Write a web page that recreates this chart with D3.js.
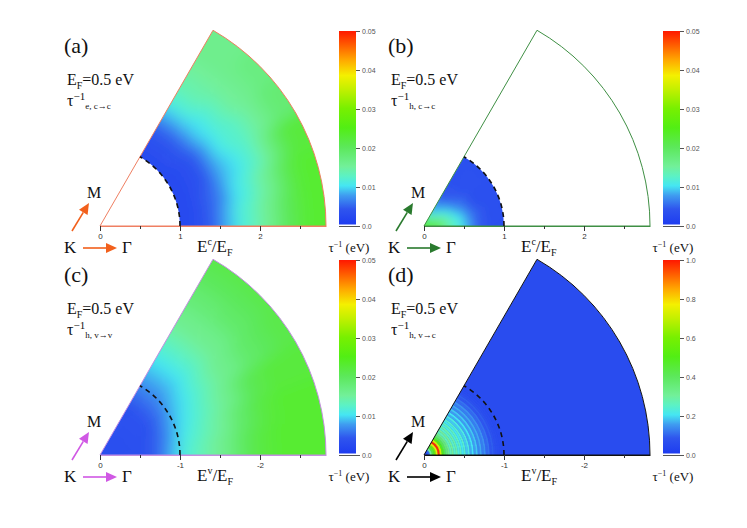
<!DOCTYPE html>
<html>
<head>
<meta charset="utf-8">
<script src="https://cdn.jsdelivr.net/npm/d3@7"></script>
<style>
  body { margin: 0; background: #fff; }
  text { font-family: "Liberation Serif", "DejaVu Serif", serif; }
  .tick text { font-family: "Liberation Sans", Arial, sans-serif; }
</style>
</head>
<body>
<div id="chart"></div>
<script>
// Chart Params
var svgWidth = 747;
var svgHeight = 528;
var serif = "Liberation Serif, DejaVu Serif, serif";

// ---- data ----
// angle rows (deg from K-Gamma towards K-M), centres of 10 deg strips
var angleRows = [5, 15, 25, 35, 45, 55];

// (a) electrons, c->c : only outside E/EF = 1
var radiiA = [1.05, 1.15, 1.25, 1.35, 1.45, 1.55, 1.65, 1.75, 1.85, 1.95,
              2.05, 2.15, 2.25, 2.35, 2.45, 2.55, 2.65, 2.75, 2.85];
var rateA = [
  [.002, .002, .003, .004, .005, .007, .009, .011, .012, .013, .015, .016, .018, .020, .021, .022, .023, .023, .023],
  [.002, .002, .003, .004, .005, .006, .008, .010, .011, .012, .014, .015, .017, .019, .021, .022, .023, .023, .023],
  [.002, .002, .003, .003, .004, .006, .008, .009, .010, .011, .012, .013, .015, .017, .019, .021, .022, .022, .022],
  [.002, .002, .003, .003, .004, .006, .008, .010, .011, .012, .012, .013, .014, .015, .016, .017, .018, .018, .018],
  [.002, .003, .003, .004, .005, .007, .009, .010, .011, .012, .013, .014, .015, .015, .016, .016, .017, .017, .017],
  [.002, .003, .003, .004, .005, .007, .009, .011, .012, .013, .014, .014, .015, .015, .016, .016, .016, .016, .016]
];

// (b) holes, c->c : only inside E/EF = 1
var radiiB = [0.05, 0.15, 0.25, 0.35, 0.45, 0.55, 0.65, 0.75, 0.85, 0.95];
var rateB = [
  [.024, .021, .017, .013, .011, .008, .005, .004, .003, .003],
  [.023, .020, .016, .012, .010, .007, .005, .004, .003, .003],
  [.022, .018, .014, .011, .008, .006, .004, .003, .003, .003],
  [.021, .016, .012, .009, .006, .005, .004, .003, .003, .003],
  [.020, .014, .010, .007, .005, .004, .003, .003, .003, .003],
  [.019, .012, .008, .006, .004, .004, .003, .003, .003, .003]
];

// (c) holes, v->v : whole wedge
var radiiC = [0.05, 0.15, 0.25, 0.35, 0.45, 0.55, 0.65, 0.75, 0.85, 0.95,
              1.05, 1.15, 1.25, 1.35, 1.45, 1.55, 1.65, 1.75, 1.85, 1.95,
              2.05, 2.15, 2.25, 2.35, 2.45, 2.55, 2.65, 2.75, 2.85];
var rateC = [
  [.003, .003, .003, .003, .003, .003, .004, .005, .007, .009, .011, .012, .013, .014, .015, .016, .017, .019, .020, .021, .022, .022, .023, .023, .023, .023, .023, .023, .023],
  [.003, .003, .003, .003, .003, .003, .004, .005, .006, .008, .010, .011, .012, .013, .014, .015, .016, .018, .019, .020, .021, .022, .022, .023, .023, .023, .023, .023, .023],
  [.003, .003, .003, .003, .003, .003, .003, .004, .006, .007, .009, .010, .011, .012, .013, .014, .015, .016, .017, .019, .020, .021, .021, .022, .022, .022, .022, .022, .022],
  [.003, .003, .003, .003, .003, .003, .003, .004, .005, .006, .008, .009, .010, .011, .012, .013, .014, .015, .016, .016, .017, .018, .019, .019, .020, .020, .021, .021, .021],
  [.003, .003, .003, .003, .003, .003, .003, .004, .005, .006, .007, .008, .009, .010, .011, .012, .013, .014, .015, .016, .016, .017, .018, .019, .019, .020, .020, .021, .021],
  [.003, .003, .003, .003, .003, .003, .003, .004, .005, .006, .007, .008, .009, .010, .011, .012, .013, .014, .015, .016, .016, .017, .018, .018, .019, .020, .020, .021, .021]
];

// (d) holes, v->c : concentric rings near K, flat beyond
var radiiD = [0.0125, 0.0375, 0.0625, 0.0875, 0.1125, 0.1375, 0.1625, 0.1875, 0.2125, 0.2375,
              0.2625, 0.2875, 0.3125, 0.3375, 0.3625, 0.3875, 0.4125, 0.4375, 0.4625, 0.4875,
              0.5125, 0.5375, 0.5625, 0.5875, 0.6125, 0.6375, 0.6625, 0.6875, 0.7125, 0.7375,
              0.7625, 0.7875, 0.8125, 0.8375, 0.8625, 0.8875, 0.9125, 0.9375, 0.9625];
var rateD = [.05, .05, .10, .30, .45, .55, .75, .98, .72, .50,
             .42, .36, .32, .26, .30, .24, .28, .22, .26, .20,
             .24, .18, .22, .16, .20, .15, .18, .13, .16, .12,
             .14, .10, .11, .08, .09, .07, .06, .055, .05];
var rateDOuter = 0.05;

// axis ticks
var majorTicks = [0, 1, 2];
var minorTicks = [0.5, 1.5, 2.5];
var cbTicksSmall = [0, 0.01, 0.02, 0.03, 0.04, 0.05];
var cbTicksLarge = [0, 0.2, 0.4, 0.6, 0.8, 1.0];

// colour map (fraction of colour bar range -> colour)
var cmapStops = [0, 0.08, 0.15, 0.2, 0.25, 0.3, 0.4, 0.5, 0.6, 0.7, 0.77, 0.85, 0.93, 1];
var cmapColors = ["#1e3cf0", "#2f55ee", "#3f9cf0", "#45e6f2", "#5cf2c4", "#72f099", "#5ce85a",
                  "#52ee14", "#78f000", "#c4f000", "#f4f000", "#ffa800", "#ff5a00", "#ff1800"];

var panels = [
  { id: "a", x: 100, y: 226, label: "(a)", sub: "e, c\u2192c", band: "c", neg: false,
    line: "#ef7f62", arrow: "#f2601c", radii: radiiA, rate: rateA, rIn: 1, rOut: 2.825,
    max: 0.05, cbTicks: cbTicksSmall, blur: 7 },
  { id: "b", x: 424, y: 226, label: "(b)", sub: "h, c\u2192c", band: "c", neg: false,
    line: "#3f8f44", arrow: "#2a7a2e", radii: radiiB, rate: rateB, rIn: 0, rOut: 1,
    max: 0.05, cbTicks: cbTicksSmall, blur: 4 },
  { id: "c", x: 100, y: 455, label: "(c)", sub: "h, v\u2192v", band: "v", neg: true,
    line: "#c48ee0", arrow: "#d058e4", radii: radiiC, rate: rateC, rIn: 0, rOut: 2.825,
    max: 0.05, cbTicks: cbTicksSmall, blur: 7 },
  { id: "d", x: 424, y: 455, label: "(d)", sub: "h, v\u2192c", band: "v", neg: true,
    line: "#111", arrow: "#000", radii: radiiD, rate: null, rIn: 0, rOut: 2.825,
    max: 1.0, cbTicks: cbTicksLarge, blur: 0 }
];

// ---- svg ----
var svg = d3.select("#chart")
  .append("svg")
  .attr("width", svgWidth)
  .attr("height", svgHeight);

var defs = svg.append("defs");

var rMax = 2.825;
var rScale = d3.scaleLinear().domain([0, rMax]).range([0, 226]);
// polar angle (deg, counter-clockwise from +x) -> d3.arc angle
var toAngle = d => Math.PI / 2 - d * Math.PI / 180;

var cmap = d3.scaleLinear().domain(cmapStops).range(cmapColors).clamp(true);

// colour bar gradient
var grad = defs.append("linearGradient").attr("id", "cmap")
  .attr("x1", 0).attr("y1", 1).attr("x2", 0).attr("y2", 0);
cmapStops.forEach(function(s, i) {
  grad.append("stop").attr("offset", s).attr("stop-color", cmapColors[i]);
});

var arc = d3.arc();

function arrow(g, x1, y1, x2, y2, color) {
  var dx = x2 - x1, dy = y2 - y1, L = Math.hypot(dx, dy);
  var ux = dx / L, uy = dy / L, hl = 11, hw = 5;
  var bx = x2 - ux * hl, by = y2 - uy * hl;
  g.append("line")
    .attr("x1", x1).attr("y1", y1).attr("x2", bx).attr("y2", by)
    .attr("stroke", color).attr("stroke-width", 1.6);
  g.append("path")
    .attr("d", `M${x2},${y2}L${bx - uy * hw},${by + ux * hw}L${bx + uy * hw},${by - ux * hw}Z`)
    .attr("fill", color);
}

function drawPanel(p) {
  var g = svg.append("g").attr("transform", `translate(${p.x}, ${p.y})`);

  // clip to the region where the rate is defined
  defs.append("clipPath").attr("id", "clip-" + p.id)
    .append("path")
    .attr("d", arc({ innerRadius: rScale(p.rIn), outerRadius: rScale(p.rOut),
                     startAngle: toAngle(60), endAngle: toAngle(0) }));

  var heat = g.append("g").attr("clip-path", `url(#clip-${p.id})`);

  if (p.rate) {
    // soft blur to smooth the grid cells
    defs.append("filter").attr("id", "soft-" + p.id)
      .attr("filterUnits", "userSpaceOnUse")
      .attr("x", -150).attr("y", -350).attr("width", 500).attr("height", 500)
      .append("feGaussianBlur").attr("stdDeviation", p.blur);

    var cells = heat.append("g").attr("filter", `url(#soft-${p.id})`);
    var last = angleRows.length - 1;
    // disc under the cells so the blur does not fade out around K
    if (p.radii[0] < 0.1) {
      cells.append("circle")
        .attr("r", rScale(0.4))
        .attr("fill", cmap(p.rate[2][0] / p.max));
    }
    p.rate.forEach(function(row, i) {
      var t0 = i === 0 ? -20 : angleRows[i] - 5;
      var t1 = i === last ? 80 : angleRows[i] + 5;
      row.forEach(function(v, j) {
        var r0 = p.radii[j] - 0.05, r1 = p.radii[j] + 0.05;
        if (j === 0) r0 = Math.max(0, r0 - 0.3);
        if (j === row.length - 1) r1 += 0.3;
        cells.append("path")
          .attr("d", arc({ innerRadius: rScale(r0), outerRadius: rScale(r1),
                           startAngle: toAngle(t1), endAngle: toAngle(t0) }))
          .attr("fill", cmap(v / p.max))
          .attr("stroke", cmap(v / p.max))
          .attr("stroke-width", 0.8);
      });
    });
  } else {
    // flat part first, rings on top
    heat.append("path")
      .attr("d", arc({ innerRadius: 0, outerRadius: rScale(rMax),
                       startAngle: toAngle(60), endAngle: toAngle(0) }))
      .attr("fill", cmap(rateDOuter / p.max));
    heat.selectAll("path.ring").data(rateD).enter()
      .append("path").attr("class", "ring")
      .attr("d", (v, j) => arc({ innerRadius: rScale(radiiD[j] - 0.0125),
                                  outerRadius: rScale(radiiD[j] + 0.0125),
                                  startAngle: toAngle(60), endAngle: toAngle(0) }))
      .attr("fill", v => cmap(v / p.max))
      .attr("stroke", v => cmap(v / p.max))
      .attr("stroke-width", 0.3);
  }

  // wedge outline
  g.append("path")
    .attr("d", arc({ innerRadius: 0, outerRadius: rScale(rMax),
                     startAngle: toAngle(60), endAngle: toAngle(0) }))
    .attr("fill", "none")
    .attr("stroke", p.line)
    .attr("stroke-width", 1);

  // dashed Fermi circle
  var fp = d3.path();
  fp.moveTo(rScale(1), 0);
  fp.arc(0, 0, rScale(1), 0, -Math.PI / 3, true);
  g.append("path")
    .attr("d", fp.toString())
    .attr("fill", "none")
    .attr("stroke", "#111")
    .attr("stroke-width", 1.6)
    .attr("stroke-dasharray", "5,4");

  // x axis
  var fmt = d => (p.neg && d !== 0 ? "-" : "") + d;
  var xAxis = g.append("g")
    .call(d3.axisBottom(rScale).tickValues(majorTicks).tickSize(5).tickSizeOuter(0).tickFormat(fmt));
  xAxis.select(".domain").attr("stroke", p.line);
  xAxis.selectAll(".tick line").attr("stroke", "#333");
  xAxis.selectAll(".tick text").attr("font-size", 8).attr("fill", "#333").attr("y", 7);

  var minor = g.append("g")
    .call(d3.axisBottom(rScale).tickValues(minorTicks).tickSize(3).tickFormat(""));
  minor.select(".domain").remove();
  minor.selectAll(".tick line").attr("stroke", "#333");

  // axis title  E^c/E_F
  var t = g.append("text").attr("x", 97).attr("y", 26).attr("font-family", serif)
    .attr("font-size", 17).attr("fill", "#111");
  t.append("tspan").text("E");
  t.append("tspan").attr("font-size", 10).attr("dy", -7).text(p.band);
  t.append("tspan").attr("dy", 7).text("/E");
  t.append("tspan").attr("font-size", 10).attr("dy", 4).text("F");

  // panel label and annotations
  g.append("text").attr("x", -36).attr("y", -173).attr("font-family", serif)
    .attr("font-size", 22).attr("fill", "#111").text(p.label);

  var ef = g.append("text").attr("x", -33).attr("y", -141).attr("font-family", serif)
    .attr("font-size", 16).attr("fill", "#111");
  ef.append("tspan").text("E");
  ef.append("tspan").attr("font-size", 10).attr("dy", 4).text("F");
  ef.append("tspan").attr("dy", -4).text("=0.5 eV");

  var tau = g.append("text").attr("x", -33).attr("y", -120).attr("font-family", serif)
    .attr("font-size", 16).attr("fill", "#111");
  tau.append("tspan").text("\u03c4");
  tau.append("tspan").attr("font-size", 11).attr("dy", -6).text("\u22121");
  tau.append("tspan").attr("font-size", 9).attr("dy", 9).text(p.sub);

  // K -> Gamma and K -> M arrows
  arrow(g, -17, 22, 17, 22, p.arrow);
  arrow(g, -28, 5, -11, -23, p.arrow);
  g.append("text").attr("x", -36).attr("y", 27).attr("font-family", serif)
    .attr("font-size", 17).attr("fill", "#111").text("K");
  g.append("text").attr("x", 22).attr("y", 27).attr("font-family", serif)
    .attr("font-size", 17).attr("fill", "#111").text("\u0393");
  g.append("text").attr("x", -13).attr("y", -28).attr("font-family", serif)
    .attr("font-size", 16).attr("fill", "#111").text("M");

  // colour bar
  var cb = g.append("g").attr("transform", "translate(239, 0)");
  cb.append("rect")
    .attr("x", 0).attr("y", -195).attr("width", 17).attr("height", 193.5)
    .attr("fill", "url(#cmap)");
  cb.append("line")
    .attr("x1", 0).attr("x2", 17).attr("y1", 0.5).attr("y2", 0.5)
    .attr("stroke", "#555").attr("stroke-width", 1);

  var cbScale = d3.scaleLinear().domain([0, p.max]).range([0, -195]);
  var cbFmt = p.max > 0.5 ? d3.format(".1f") : (d => d === 0 ? "0.0" : d3.format(".2f")(d));
  var cbAxis = cb.append("g").attr("transform", "translate(17, 0)")
    .call(d3.axisRight(cbScale).tickValues(p.cbTicks).tickSize(4).tickFormat(cbFmt));
  cbAxis.select(".domain").remove();
  cbAxis.selectAll(".tick line").attr("stroke", "#555");
  cbAxis.selectAll(".tick text").attr("font-size", 7).attr("fill", "#555").attr("x", 6);

  var cbt = g.append("text").attr("x", 249).attr("y", 26).attr("font-family", serif)
    .attr("font-size", 13).attr("text-anchor", "middle").attr("fill", "#111");
  cbt.append("tspan").text("\u03c4");
  cbt.append("tspan").attr("font-size", 8).attr("dy", -5).text("\u22121");
  cbt.append("tspan").attr("dy", 5).text(" (eV)");
}

panels.forEach(drawPanel);
</script>
</body>
</html>
